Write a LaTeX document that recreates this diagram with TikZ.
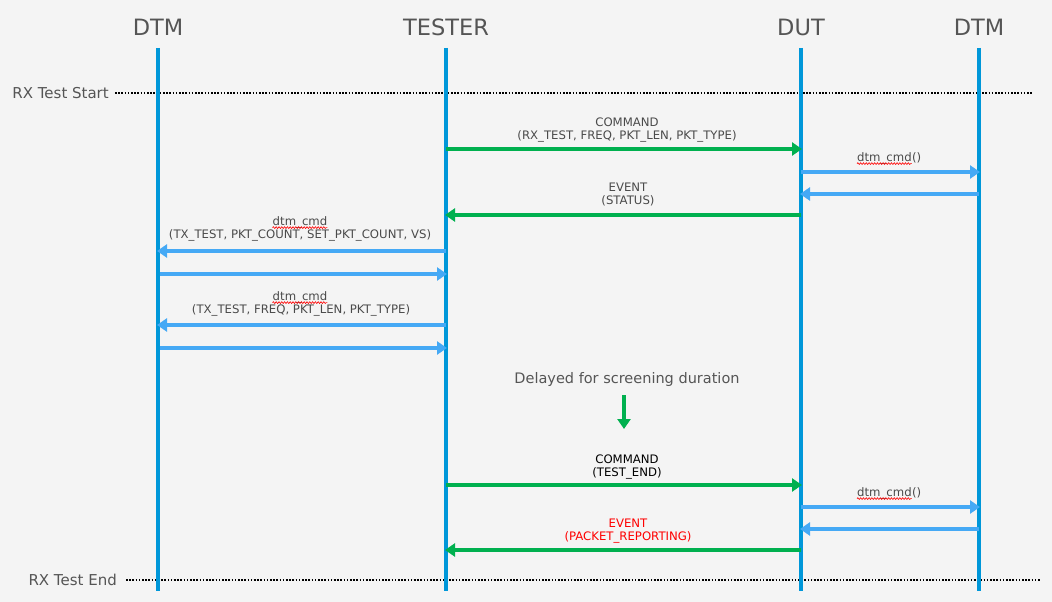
\documentclass[tikz,border=0pt]{standalone}
\usepackage{fontspec}
\setmainfont{DejaVu Sans}
\usetikzlibrary{arrows.meta,decorations.pathmorphing}
\definecolor{bg}{HTML}{F4F4F4}
\definecolor{life}{HTML}{0097D9}
\definecolor{msgblue}{HTML}{45A9F5}
\definecolor{msggreen}{HTML}{00B04F}
\definecolor{txt}{HTML}{555555}
\definecolor{lbl}{HTML}{4A4A4A}
\tikzset{
  lifeline/.style={draw=life, line width=3.2pt},
  title/.style={text=txt, font=\fontsize{22.5}{26}\selectfont, inner sep=0pt},
  bmsg/.style={draw=msgblue, line width=3.2pt, -{Triangle[length=10pt,width=13pt]}, shorten >=-1pt},
  gmsg/.style={draw=msggreen, line width=3.2pt, -{Triangle[length=10pt,width=13pt]}, shorten >=-1pt},
  lab/.style={text=lbl, font=\fontsize{11.7}{13}\selectfont, align=center, inner sep=0pt},
  phase/.style={text=txt, font=\fontsize{15}{17}\selectfont, inner sep=0pt},
  sep/.style={draw=black, line width=1.6pt, dash pattern=on 1.6pt off 1.6pt},
  squig/.style={draw=red, line width=0.6pt, decorate, decoration={snake, amplitude=0.9pt, segment length=2.8pt}},
}
\begin{document}
\begin{tikzpicture}[x=1pt,y=-1pt]
\fill[bg] (0,0) rectangle (1052,602);
\useasboundingbox (0,0) rectangle (1052,602);
% lifelines
\coordinate (A) at (158,0);
\coordinate (T) at (446,0);
\coordinate (D) at (801,0);
\coordinate (B) at (979,0);
\node[title] (tA) at (158,27) {DTM};
\node[title] (tT) at (446,27) {TESTER};
\node[title] (tD) at (801,27) {DUT};
\node[title] (tB) at (979,27) {DTM};
% separators
\node[phase, anchor=east] (start) at (109,93) {RX Test Start};
\coordinate (startend) at (1033,93);
\node[phase, anchor=east] (stop) at (117,580) {RX Test End};
\coordinate (stopend) at (1041,580);
\draw[sep] ([xshift=6pt]start.east) -- (startend);
\draw[sep] ([xshift=9pt]stop.east) -- (stopend);
\foreach \n in {A,T,D,B}{\draw[lifeline] (\n |- 0,48) -- (\n |- 0,591);}
% messages
\node[lab] (l1) at (627,130) {COMMAND\\(RX\_TEST, FREQ, PKT\_LEN, PKT\_TYPE)};
\draw[gmsg] (T |- 0,149) -- (D |- 0,149);
\node[lab, anchor=base west] (w2) at (857,161) {dtm\_cmd};
\node[lab, anchor=base west] (p2) at (w2.base east) {()};
\draw[squig] ([yshift=-2.6pt]w2.base west) -- ([yshift=-2.6pt]w2.base east);
\draw[bmsg] (D |- 0,172) -- (B |- 0,172);
\draw[bmsg] (B |- 0,194) -- (D |- 0,194);
\node[lab] (l3) at (628,195) {EVENT\\(STATUS)};
\draw[gmsg] (D |- 0,215) -- (T |- 0,215);
\node[lab, anchor=base] (w4) at (300,225) {dtm\_cmd};
\draw[squig] ([yshift=-2.6pt]w4.base west) -- ([yshift=-2.6pt]w4.base east);
\node[lab, anchor=base] (l4) at (300,238) {(TX\_TEST, PKT\_COUNT, SET\_PKT\_COUNT, VS)};
\draw[bmsg] (T |- 0,251) -- (A |- 0,251);
\draw[bmsg] ([xshift=2pt]A |- 0,274) -- (T |- 0,274);
\node[lab, anchor=base] (w5) at (300,300) {dtm\_cmd};
\draw[squig] ([yshift=-2.6pt]w5.base west) -- ([yshift=-2.6pt]w5.base east);
\node[lab, anchor=base] (l5) at (301,313) {(TX\_TEST, FREQ, PKT\_LEN, PKT\_TYPE)};
\draw[bmsg] (T |- 0,325) -- (A |- 0,325);
\draw[bmsg] ([xshift=2pt]A |- 0,348) -- (T |- 0,348);
\node[phase, font=\fontsize{14.5}{17}\selectfont] (delay) at (627,379) {Delayed for screening duration};
\coordinate (dtop) at (624,395);
\coordinate (dbot) at (624,429);
\draw[gmsg, shorten >=0pt] (dtop) -- (dbot);
\node[lab, text=black] (l6) at (627,467) {COMMAND\\(TEST\_END)};
\draw[gmsg] (T |- 0,485) -- (D |- 0,485);
\node[lab, anchor=base west] (w7) at (857,496) {dtm\_cmd};
\node[lab, anchor=base west] (p7) at (w7.base east) {()};
\draw[squig] ([yshift=-2.6pt]w7.base west) -- ([yshift=-2.6pt]w7.base east);
\draw[bmsg] (D |- 0,507) -- (B |- 0,507);
\draw[bmsg] (B |- 0,529) -- (D |- 0,529);
\node[lab, text=red] (l8) at (628,531) {EVENT\\(PACKET\_REPORTING)};
\draw[gmsg] (D |- 0,550) -- (T |- 0,550);
\end{tikzpicture}
\end{document}
